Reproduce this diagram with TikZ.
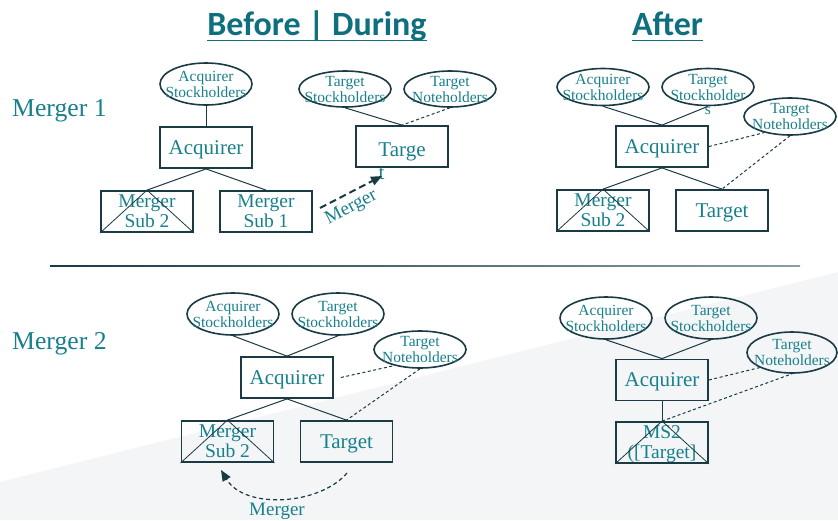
\documentclass[tikz,border=0pt]{standalone}
\usepackage{fontspec}
\setmainfont{Liberation Serif}
\newfontfamily\headfont{Carlito}
\usetikzlibrary{shapes.geometric,arrows.meta}
\definecolor{dealteal}{RGB}{24,128,140}
\definecolor{headteal}{RGB}{14,112,126}
\definecolor{wire}{RGB}{26,58,68}
\definecolor{paleground}{RGB}{243,245,247}
\definecolor{rulefade}{RGB}{140,158,164}
\begin{document}
\begin{tikzpicture}[x=1pt,y=-1pt,
    entity/.style={draw=wire, line width=1.8pt, minimum width=92pt, minimum height=41pt,
        inner sep=0pt, text depth=0pt, text=dealteal, font=\fontsize{21}{23}\selectfont},
    subbox/.style={entity, align=center, font=\fontsize{19.5}{20}\selectfont},
    holder/.style={ellipse, draw=wire, line width=1.6pt, minimum width=92pt, minimum height=42pt,
        inner sep=0pt, label={[holdtext]center:#1}},
    holdtext/.style={text=dealteal, align=center, inner sep=0pt, font=\fontsize{15.5}{16}\selectfont},
    heading/.style={text=headteal, inner sep=0pt, anchor=base, font=\headfont\bfseries\fontsize{34}{36}\selectfont},
    rowtext/.style={text=dealteal, inner sep=0pt, anchor=base west, font=\fontsize{25.7}{28}\selectfont},
    arrowtext/.style={text=dealteal, inner sep=0pt, font=\fontsize{19}{21}\selectfont},
    cross/.style={draw=wire, line width=0.8pt},
    tie/.style={draw=wire, line width=1pt},
    owes/.style={draw=wire, line width=1pt, dash pattern=on 3pt off 2.5pt},
    push/.style={draw=wire, line width=2pt, dash pattern=on 7pt off 4pt, -{Triangle[length=11pt,width=9pt]}},
    swing/.style={draw=wire, line width=1.2pt, dash pattern=on 4pt off 3pt, -{Triangle[length=11pt,width=9pt]}}]

    \fill[white] (0,0) rectangle (838,520);
    \fill[paleground] (0,482) -- (838,272) -- (838,520) -- (0,520) -- cycle;
    \shade[left color=wire, right color=rulefade] (50,265.3) rectangle (800,266.7);

    \node[heading] (before) at (317,35) {Before | During};
    \node[heading] (after) at (667.5,35) {After};
    \draw[headteal, line width=1.8pt] ([yshift=-5.5pt]before.base west) -- ([yshift=-5.5pt]before.base east);
    \draw[headteal, line width=1.8pt] ([yshift=-5.5pt]after.base west) -- ([yshift=-5.5pt]after.base east);

    \node[rowtext] (row1) at (12,116) {Merger 1};
    \node[rowtext] (row2) at (12,349) {Merger 2};

    % Merger 1, before
    \node[holder={Acquirer\\Stockholders}] (as1) at (206,84) {};
    \node[entity] (acq1) at (206,147.5) {Acquirer};
    \node[subbox] (ms2a) at (147,211.5) {Merger\\Sub 2};
    \node[subbox] (ms1a) at (266,211.5) {Merger\\Sub 1};
    \node[holder={Target\\Stockholders}, minimum height=36pt] (ts1) at (345,89) {};
    \node[holder={Target\\Noteholders}, minimum height=36pt] (tn1) at (450,89) {};
    \node[entity, text height=20pt] (tg1) at (402,146.5) {Targe};
    \node[text=dealteal, inner sep=0pt, anchor=base west, font=\fontsize{21}{23}\selectfont] (tg1t) at ([yshift=-23pt]tg1.text) {t};
    \coordinate (m1from) at (320,208);
    \coordinate (m1to) at (382,176);

    \draw[tie] (as1.south) -- (acq1.north);
    \draw[tie] (acq1.south) -- (ms2a.north);
    \draw[tie] (acq1.south) -- (ms1a.north);
    \draw[cross] (ms2a.south west) -- (ms2a.north) -- (ms2a.south east);
    \draw[tie] (ts1.south) -- (tg1.north);
    \draw[owes] (tn1.south) -- (tg1.north);
    \draw[push] (m1from) -- node[arrowtext, sloped, below=5pt, pos=0.4] {Merger} (m1to);

    % Merger 1, after
    \node[holder={Acquirer\\Stockholders}, minimum height=37pt] (as3) at (603,87) {};
    \node[holder={Target\\Stockholder}, minimum height=37pt] (ts3) at (708,87) {};
    \node[holdtext, anchor=base] (ts3s) at (708,114) {s};
    \node[holder={Target\\Noteholders}, minimum height=37pt] (tn3) at (790,116.5) {};
    \node[entity] (acq3) at (662,146.5) {Acquirer};
    \node[subbox] (ms3) at (603,210.5) {Merger\\Sub 2};
    \node[entity] (tg3) at (722,210.5) {Target};

    \draw[tie] (as3.south) -- (acq3.north);
    \draw[tie] (ts3.south) -- (acq3.north);
    \draw[tie] (acq3.south) -- (ms3.north);
    \draw[tie] (acq3.south) -- (tg3.north);
    \draw[cross] (ms3.south west) -- (ms3.north) -- (ms3.south east);
    \draw[owes] (acq3.east) -- (tn3.212);
    \draw[owes] (tn3.south) -- (tg3.north);

    % Merger 2, before
    \node[holder={Acquirer\\Stockholders}] (as2) at (233,314) {};
    \node[holder={Target\\Stockholders}] (ts2) at (338,314) {};
    \node[holder={Target\\Noteholders}, minimum height=37pt] (tn2) at (420,349.5) {};
    \node[entity] (acq2) at (287,377.5) {Acquirer};
    \node[subbox] (ms2b) at (227.5,441.5) {Merger\\Sub 2};
    \node[entity] (tg2) at (346.5,441.5) {Target};
    \coordinate (m2from) at (347,473);
    \coordinate (m2to) at (221,470);

    \draw[tie] (as2.south) -- (acq2.north);
    \draw[tie] (ts2.south) -- (acq2.north);
    \draw[tie] (acq2.south) -- (ms2b.north);
    \draw[tie] (acq2.south) -- (tg2.north);
    \draw[cross] (ms2b.south west) -- (ms2b.north) -- (ms2b.south east);
    \draw[owes] ([xshift=7pt]acq2.east) -- (tn2.212);
    \draw[owes] (tn2.south) -- (tg2.north);
    \draw[swing] (m2from) .. controls (320,505) and (245,510) .. (m2to);
    \node[arrowtext] (m2lab) at (277,511) {Merger};

    % Merger 2, after
    \node[holder={Acquirer\\Stockholders}] (as4) at (606,318) {};
    \node[holder={Target\\Stockholders}] (ts4) at (711,318) {};
    \node[holder={Target\\Noteholders}, minimum height=41pt, minimum width=90pt] (tn4) at (792,352.5) {};
    \node[entity] (acq4) at (662,380) {Acquirer};
    \node[subbox] (ms4) at (662,442.5) {MS2\\([Target]};

    \draw[tie] (as4.south) -- (acq4.north);
    \draw[tie] (ts4.south) -- (acq4.north);
    \draw[tie] (acq4.south) -- (ms4.north);
    \draw[cross] (ms4.south west) -- (ms4.north) -- (ms4.south east);
    \draw[owes] (acq4.east) -- (tn4.205);
    \draw[owes] (ms4.north) -- (tn4.south);
\end{tikzpicture}
\end{document}
